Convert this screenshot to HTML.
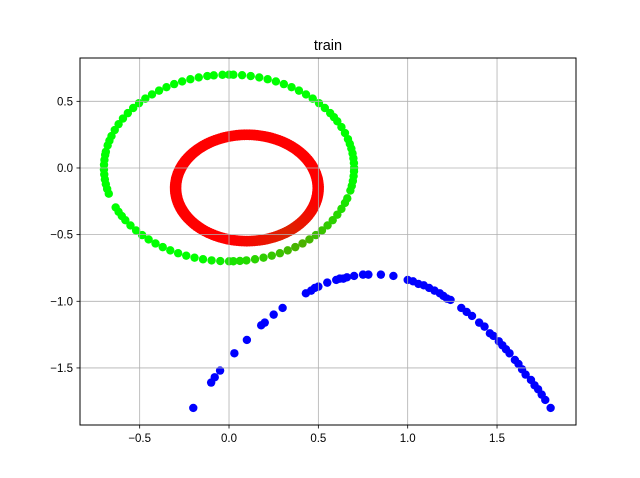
<!DOCTYPE html>
<html><head><meta charset="utf-8">
<style>
html,body{margin:0;padding:0;background:#fff;}
svg{display:block;font-family:"Liberation Sans","DejaVu Sans",sans-serif;}
</style></head>
<body>
<svg id="chart" width="640" height="478" viewBox="0 0 640 478">
<rect width="640" height="478" fill="#fff"/>
<g id="points"></g>
<g id="grid"></g>
<rect x="80" y="58" width="496" height="367" fill="none" stroke="#000" stroke-width="1"/>
<g id="ticks"></g>
<text x="328" y="50" text-anchor="middle" font-size="14.5">train</text>
</svg>
<script>
const xTicks=[-0.5,0,0.5,1.0,1.5];
const xTickLabels=["−0.5","0.0","0.5","1.0","1.5"];
const yTicks=[0.5,0,-0.5,-1.0,-1.5];
const yTickLabels=["0.5","0.0","−0.5","−1.0","−1.5"];
const blueX=[-0.2,-0.1,-0.08,-0.05,0.03,0.1,0.18,0.2,0.25,0.3,0.43,0.46,0.48,0.5,0.55,0.6,0.62,0.64,0.66,0.7,0.75,0.78,0.85,0.92,1.0,1.03,1.06,1.09,1.12,1.15,1.18,1.2,1.22,1.24,1.3,1.33,1.36,1.4,1.43,1.46,1.48,1.51,1.53,1.55,1.57,1.6,1.62,1.64,1.66,1.69,1.71,1.73,1.75,1.77,1.8];
const blueY=[-1.8,-1.61,-1.57,-1.52,-1.39,-1.29,-1.18,-1.16,-1.10,-1.05,-0.94,-0.92,-0.90,-0.89,-0.86,-0.84,-0.83,-0.83,-0.82,-0.81,-0.80,-0.80,-0.80,-0.81,-0.84,-0.85,-0.87,-0.88,-0.90,-0.92,-0.94,-0.96,-0.98,-0.99,-1.05,-1.08,-1.11,-1.16,-1.19,-1.24,-1.26,-1.30,-1.33,-1.36,-1.39,-1.44,-1.47,-1.51,-1.55,-1.59,-1.63,-1.66,-1.70,-1.74,-1.8];
const greenCenter=[0,0], greenRadius=0.7;
const greenAngles=[0,3,6,9,12,15,18,22,26,30,33,36,40,44,48,52,56,60,64,68,72,76,80,84,88,90,93,97,100,104,108,112,116,120,124,128,132,136,140,144,148,152,156,160,163,166,170,172,175,178,181,184,187,190,193,196,205,208,211,214,218,222,226,230,234,238,242,246,250,254,258,262,266,270,272,275,278,282,286,290,294,298,302,306,310,314,318,322,326,330,334,338,341,346,349,352,355,358];
const redCenter=[0.1,-0.15], redRadii=[0.39,0.408];
const redAngles=Array.from({length:180},(_, i)=>i*2);
const X0=-0.834,X1=1.942,Y0=-1.928,Y1=0.825,L=80,R=576,T=58,B=425;
function sx(v){return L+(v-X0)/(X1-X0)*(R-L);}
function sy(v){return B-(v-Y0)/(Y1-Y0)*(B-T);}
const NS="http://www.w3.org/2000/svg";
const grid=document.getElementById('grid'),ticks=document.getElementById('ticks'),pts=document.getElementById('points');
function mk(tag,attrs,parent){const e=document.createElementNS(NS,tag);for(const k in attrs)e.setAttribute(k,attrs[k]);parent.appendChild(e);return e;}
xTicks.forEach((v,i)=>{
  const x=sx(v);
  const g=mk('line',{x1:x,x2:x,y1:T,y2:B,stroke:'#b0b0b0','stroke-width':0.8},grid);
  
  
  const t=mk('line',{x1:x,x2:x,y1:B,y2:B+3.5,stroke:'#000','stroke-width':0.8},ticks);
  
  
  const l=mk('text',{x:x,y:B+17,'text-anchor':'middle','font-size':11.5},ticks);
  l.textContent=xTickLabels[i];
  
  
});
yTicks.forEach((v,i)=>{
  const y=sy(v);
  const g=mk('line',{x1:L,x2:R,y1:y,y2:y,stroke:'#b0b0b0','stroke-width':0.8},grid);
  
  
  const t=mk('line',{x1:L-3.5,x2:L,y1:y,y2:y,stroke:'#000','stroke-width':0.8},ticks);
  
  
  const l=mk('text',{x:L-7,y:y+4,'text-anchor':'end','font-size':11.5},ticks);
  l.textContent=yTickLabels[i];
  
  
});
function dot(x,y,color,name){
  const c=mk('circle',{cx:sx(x),cy:sy(y),r:4.2,fill:color},pts);
  
  
}
function shade(a,c0,w){const t=1-Math.abs(a-305)/w;return Math.max(0,Math.min(1,t));}
greenAngles.forEach(a=>{
  const rad=a*Math.PI/180;
  const k=shade(a,305,50);
  const color='rgb('+Math.round(75*k)+','+Math.round(255-80*k)+',0)';
  dot(greenCenter[0]+greenRadius*Math.cos(rad),greenCenter[1]+greenRadius*Math.sin(rad),color,'green-point');
});
redRadii.forEach(rr=>redAngles.forEach(a=>{
  const rad=a*Math.PI/180;
  const k=shade(a,305,45);
  const color='rgb('+Math.round(255-35*k)+','+Math.round(35*k)+',0)';
  dot(redCenter[0]+rr*Math.cos(rad),redCenter[1]+rr*Math.sin(rad),color,'red-point');
}));
blueX.forEach((x,i)=>dot(x,blueY[i],'#0000ff','blue-point'));
</script>
</body></html>
